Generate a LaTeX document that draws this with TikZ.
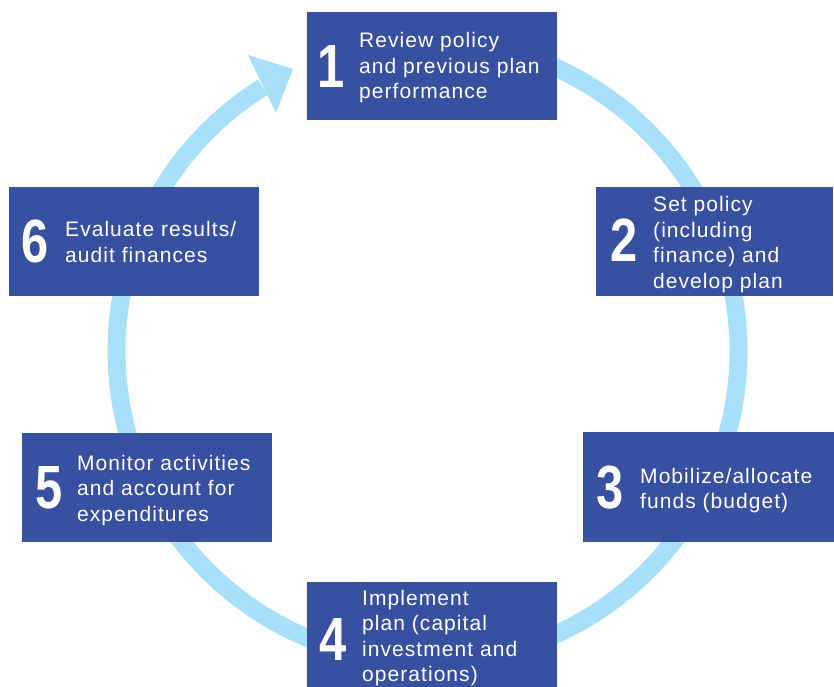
\documentclass[tikz,border=0pt]{standalone}
\usepackage{fontspec}
\usepackage{graphicx}
\usetikzlibrary{calc}
\setmainfont{Liberation Sans}
\newfontfamily\bodyfont{Liberation Sans}[LetterSpace=5]
\newfontfamily\numfont{Liberation Sans}
\definecolor{boxblue}{HTML}{3850A0}
\definecolor{ringblue}{HTML}{A8DFF9}
\tikzset{
  stepbox/.style={fill=boxblue, draw=none, inner sep=0pt, outer sep=0pt},
  num/.style={text=white, font=\numfont\bfseries\fontsize{61}{61}\selectfont, anchor=base, inner sep=0pt},
  txt/.style={text=white, font=\bodyfont\fontsize{21}{25.5}\selectfont, anchor=base west, inner sep=0pt},
  ring/.style={draw=ringblue, line width=18pt, line cap=butt}
}
\newcommand{\nm}[1]{\scalebox{0.8}[1]{#1}}
\newcommand{\lines}[1]{\begin{tabular}[t]{@{}l@{}}#1\end{tabular}}
\begin{document}
\begin{tikzpicture}[x=1pt,y=1pt]
\clip (0,0) rectangle (834,686);
\fill[white] (0,0) rectangle (834,686);
% ring with arrow
\coordinate (c) at (427.5,335);
\draw[ring] ($(c)+(95:311)$) arc[start angle=95, end angle=-238, radius=311];
\coordinate (tip) at (293,617);
\coordinate (wa) at (248,631);
\coordinate (wb) at (276,573);
\fill[ringblue] (wa) -- (tip) -- (wb) -- cycle;
% boxes
\node[stepbox, minimum width=250pt, minimum height=108pt] (b1) at (432,620) {};
\node[stepbox, minimum width=237pt, minimum height=109pt] (b2) at (714.5,444.5) {};
\node[stepbox, minimum width=251pt, minimum height=110pt] (b3) at (708.5,199) {};
\node[stepbox, minimum width=250pt, minimum height=113pt] (b4) at (432,47.5) {};
\node[stepbox, minimum width=250pt, minimum height=109pt] (b5) at (147,198.5) {};
\node[stepbox, minimum width=250pt, minimum height=109pt] (b6) at (134,444.5) {};
% numbers
\node[num] (n1) at (331,598) {\nm{1}};
\node[num] (n2) at (624.5,424) {\nm{2}};
\node[num] (n3) at (610.5,178) {\nm{3}};
\node[num] (n4) at (333.5,26) {\nm{4}};
\node[num] (n5) at (49.5,178) {\nm{5}};
\node[num] (n6) at (35.5,423) {\nm{6}};
% texts
\node[txt] (t1) at (359,638) {\lines{Review policy\\and previous plan\\performance}};
\node[txt] (t2) at (653,474) {\lines{Set policy\\(including\\finance) and\\develop plan}};
\node[txt] (t3) at (640,203) {\lines{Mobilize/allocate\\funds (budget)}};
\node[txt] (t4) at (362,81) {\lines{Implement\\plan (capital\\investment and\\operations)}};
\node[txt] (t5) at (77,216) {\lines{Monitor activities\\and account for\\expenditures}};
\node[txt] (t6) at (65,449) {\lines{Evaluate results/\\audit finances}};
\end{tikzpicture}
\end{document}
